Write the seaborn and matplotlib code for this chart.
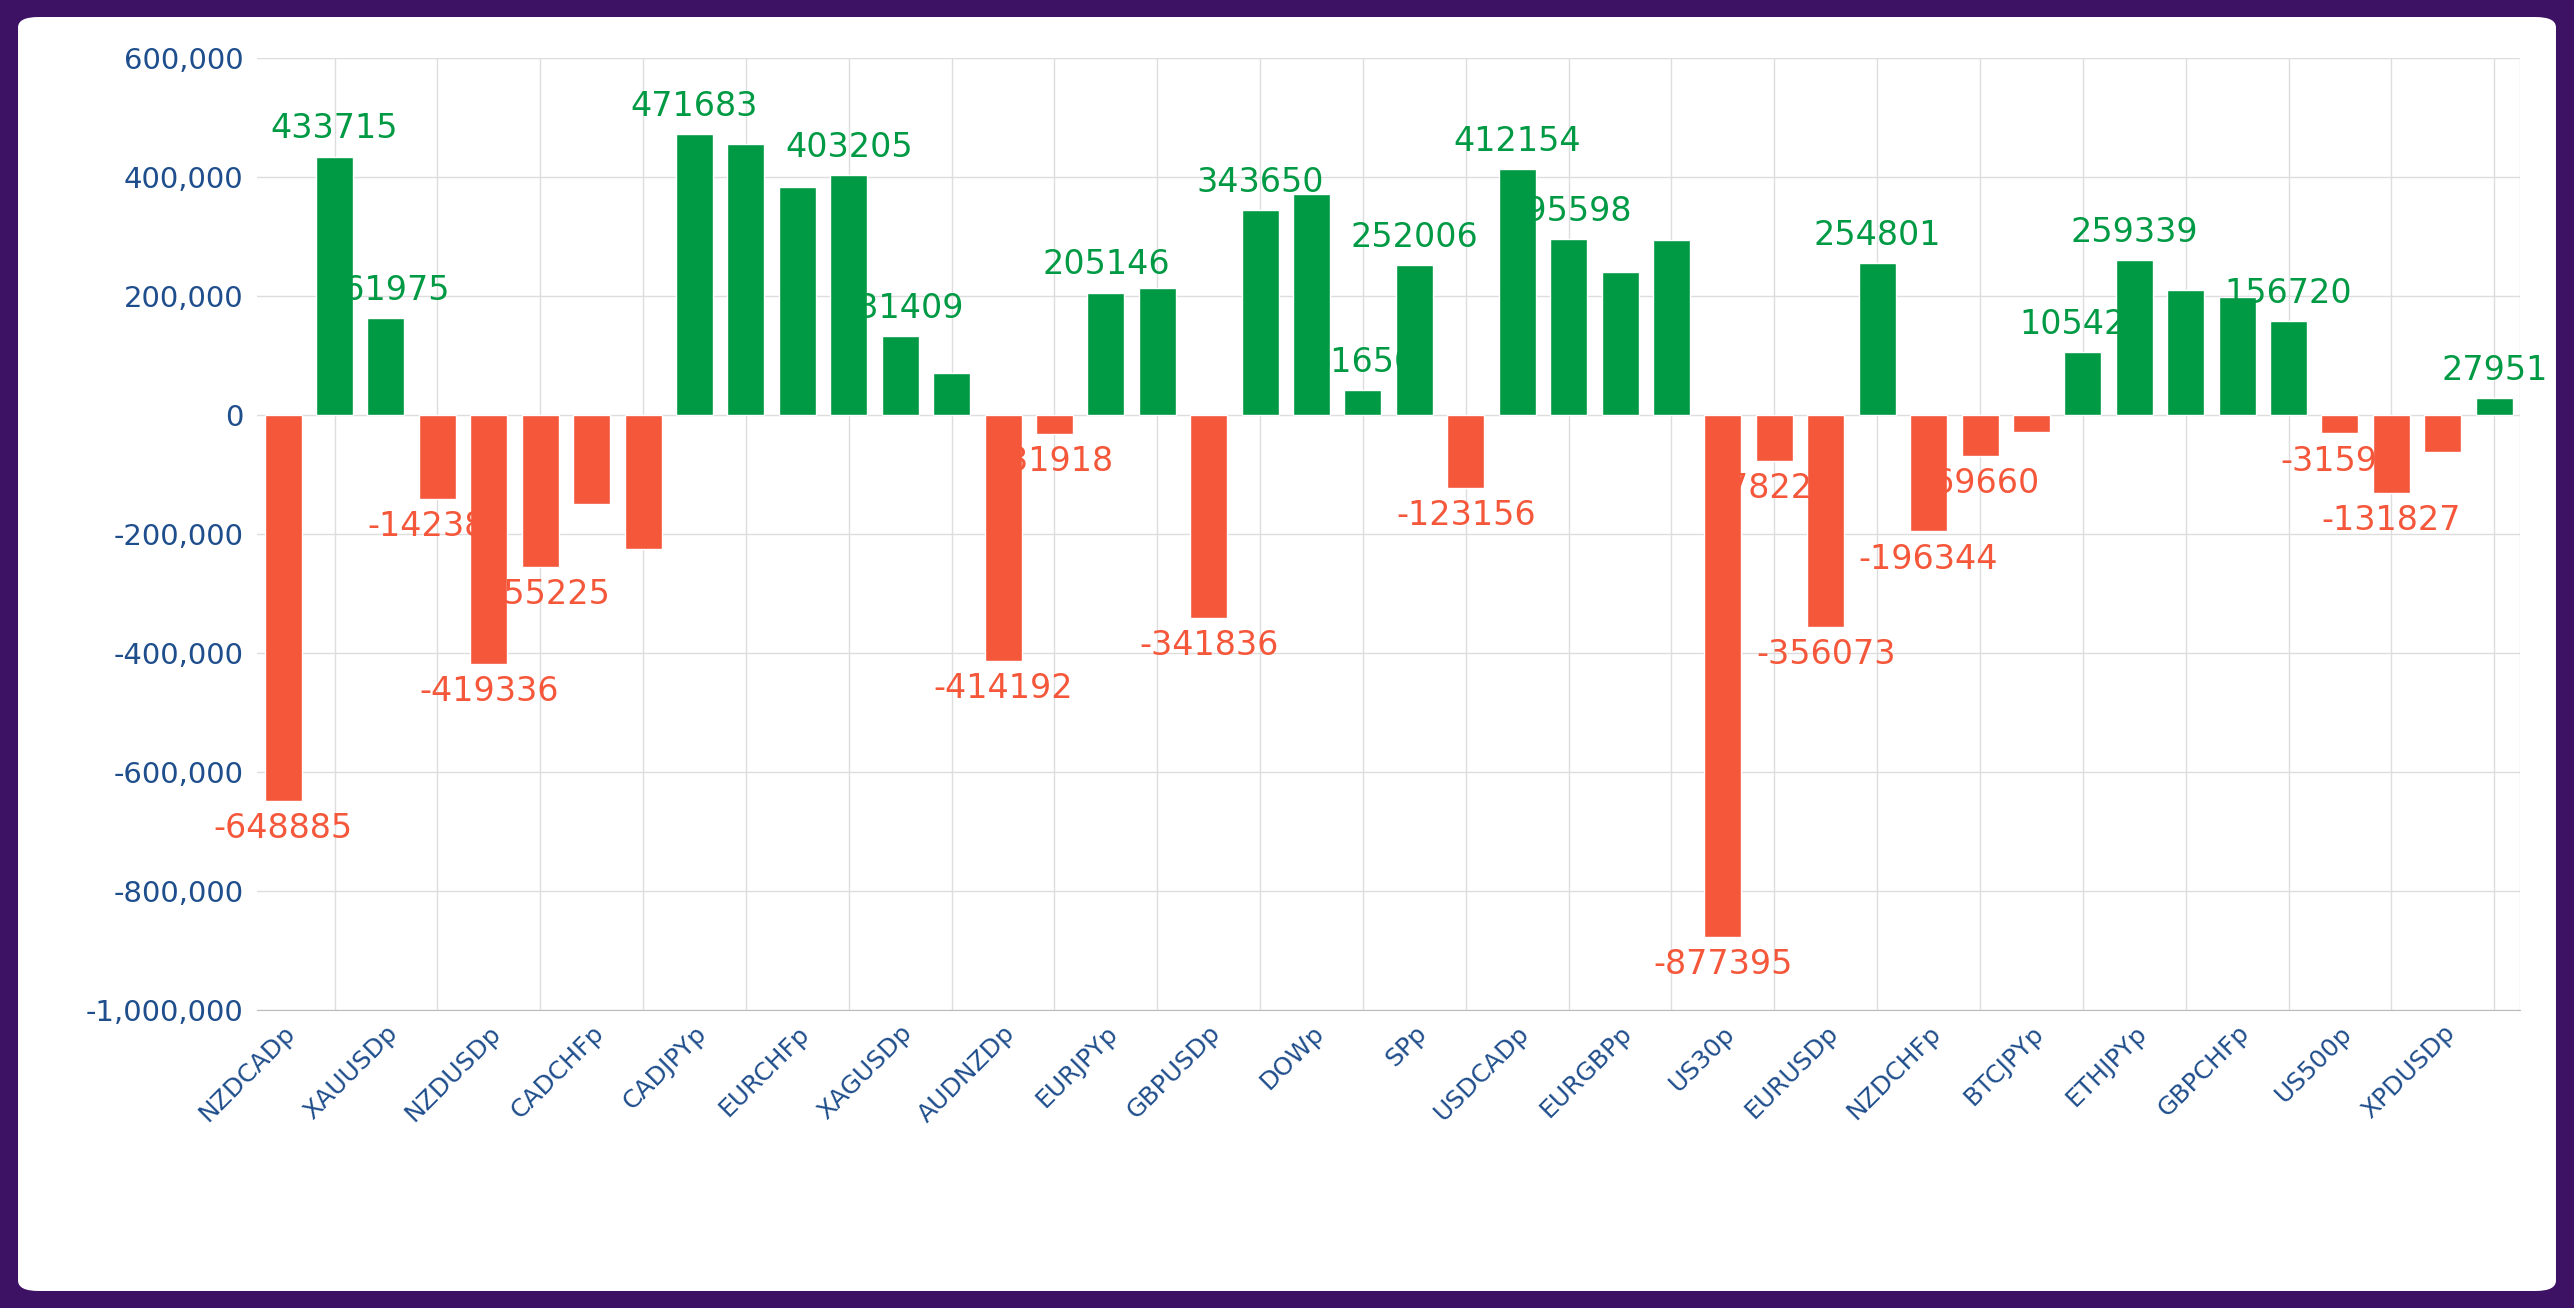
import matplotlib.pyplot as plt
import seaborn as sns
import pandas as pd
from matplotlib.patches import FancyBboxPatch
from matplotlib.ticker import FuncFormatter

symbols = ['NZDCADp', 'AUDCADp', 'XAUUSDp', 'AUDUSDp', 'NZDUSDp', 'GBPCADp', 'CADCHFp', 'AUDCHFp',
           'CADJPYp', 'EURCADp', 'EURCHFp', 'USDCHFp', 'XAGUSDp', 'AUDJPYp', 'AUDNZDp', 'EURAUDp',
           'EURJPYp', 'GBPJPYp', 'GBPUSDp', 'CHFJPYp', 'DOWp', 'NASp', 'SPp', 'EURNZDp',
           'USDCADp', 'USDJPYp', 'EURGBPp', 'GBPAUDp', 'US30p', 'GBPNZDp', 'EURUSDp', 'NZDJPYp',
           'NZDCHFp', 'XPTUSDp', 'BTCJPYp', 'BTCUSDp', 'ETHJPYp', 'ETHUSDp', 'GBPCHFp', 'USTECp',
           'US500p', 'UK100p', 'XPDUSDp', 'JP225p']
profit = [-648885, 433715, 161975, -142382, -419336, -255225, -150000, -225000,
          471683, 455000, 383000, 403205, 131409, 70000, -414192, -31918,
          205146, 213000, -341836, 343650, 370000, 41650, 252006, -123156,
          412154, 295598, 240000, 293000, -877395, -78220, -356073, 254801,
          -196344, -69660, -30000, 105420, 259339, 209000, 198000, 156720,
          -31590, -131827, -62000, 27951]
labelled = [0, 1, 2, 3, 4, 5, 8, 11, 12, 14, 15, 16, 18, 19, 21, 22, 23, 24, 25, 28, 29, 30,
            31, 32, 33, 35, 36, 39, 40, 41, 43]

green, red, navy = '#009a44', '#f5573b', '#1f4e8c'
df = pd.DataFrame({'symbol': symbols, 'profit': profit})
df['sign'] = ['pos' if v >= 0 else 'neg' for v in df['profit']]

sns.set_style('white')
plt.rcParams['font.family'] = ['DejaVu Sans']
fig = plt.figure(figsize=(25.74, 13.08), dpi=100)
fig.patch.set_facecolor('#3d1163')
fig.patches.append(FancyBboxPatch((0.007, 0.013), 0.986, 0.974, boxstyle='round,pad=0,rounding_size=0.008',
                                  transform=fig.transFigure, facecolor='white', edgecolor='none', zorder=-5))
ax = fig.add_axes([0.100, 0.228, 0.879, 0.728])
ax.set_zorder(2)
ax.set_facecolor('white')
sns.barplot(data=df, x='symbol', y='profit', hue='sign', palette={'pos': green, 'neg': red},
            order=symbols, width=0.72, legend=False, ax=ax, saturation=1, zorder=3)

ax.set_ylim(-1000000, 600000)
ax.set_xlim(-0.5, len(symbols) - 0.5)
ax.set_yticks(range(-1000000, 600001, 200000))
ax.yaxis.set_major_formatter(FuncFormatter(lambda v, p: f'{int(v):,}'))
ax.grid(axis='y', color='#dddddd', lw=1, zorder=0)
for i in range(1, len(symbols), 2):
    ax.axvline(i, color='#dddddd', lw=1, zorder=0)
ax.axvline(len(symbols) - 0.5, color='#dddddd', lw=1, zorder=0)
ax.set_xticks(range(0, len(symbols), 2))
ax.set_xticklabels(symbols[::2], rotation=45, ha='right', rotation_mode='anchor', color=navy, fontsize=18)
ax.tick_params(axis='y', labelsize=21, colors=navy, length=0, pad=10)
ax.tick_params(axis='x', length=0, pad=8)
for s in ['top', 'right', 'left']:
    ax.spines[s].set_visible(False)
ax.spines['bottom'].set_color('#bbbbbb')
ax.set_xlabel('')
ax.set_ylabel('')

for i in labelled:
    v = profit[i]
    if v >= 0:
        ax.annotate(str(v), (i, v), xytext=(0, 8), textcoords='offset points', ha='center', va='bottom',
                    color=green, fontsize=24, zorder=5)
    else:
        ax.annotate(str(v), (i, v), xytext=(0, -8), textcoords='offset points', ha='center', va='top',
                    color=red, fontsize=24, zorder=5)

fig.savefig('out.png', dpi=100, facecolor=fig.get_facecolor())
